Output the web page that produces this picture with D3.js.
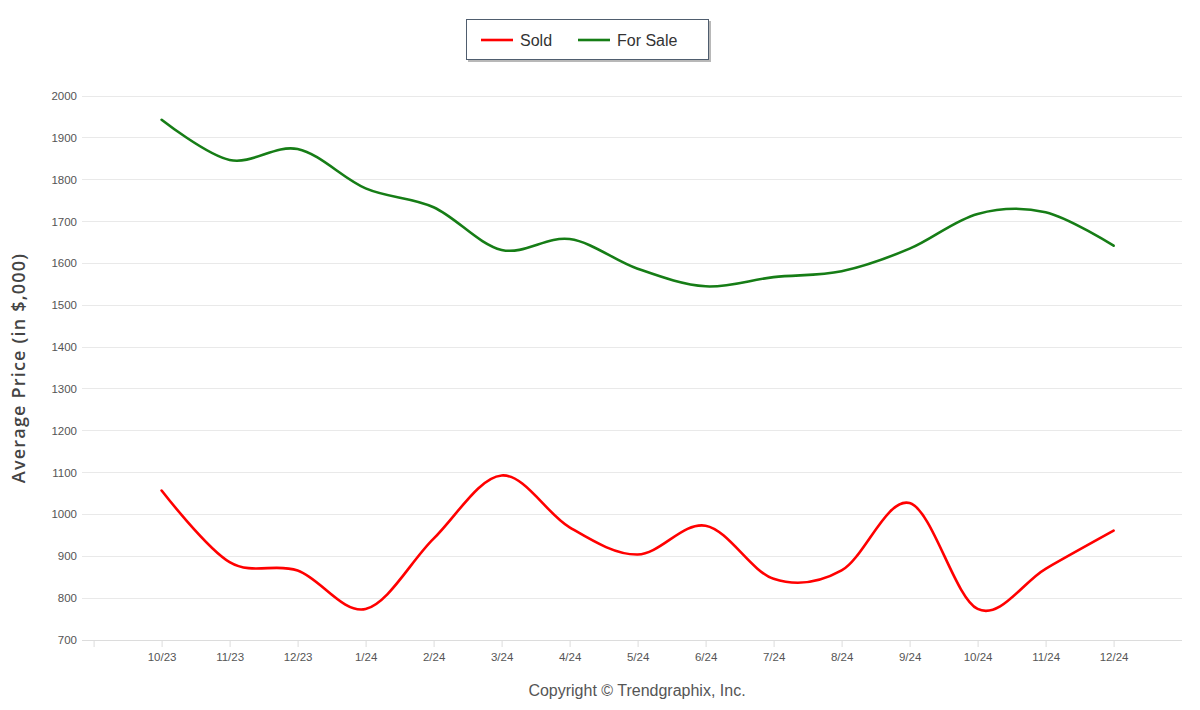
<!DOCTYPE html>
<html>
<head>
<meta charset="utf-8">
<script src="https://cdn.jsdelivr.net/npm/d3@7"></script>
<style>
  html, body { margin: 0; padding: 0; background: #fff; }
  svg { display: block; }
</style>
</head>
<body>
<svg id="chart" width="1200" height="710"></svg>
<script>
const categories = ["10/23","11/23","12/23","1/24","2/24","3/24","4/24","5/24","6/24","7/24","8/24","9/24","10/24","11/24","12/24"];
const soldValues = [1056, 885, 865, 773, 941, 1092, 968, 903, 972, 845, 865, 1026, 773, 869, 960];
const forSaleValues = [1942, 1846, 1872, 1778, 1733, 1631, 1657, 1586, 1544, 1566, 1580, 1634, 1717, 1721, 1641];
const yTicks = [700, 800, 900, 1000, 1100, 1200, 1300, 1400, 1500, 1600, 1700, 1800, 1900, 2000];
const seriesNames = ["Sold", "For Sale"];
const seriesColors = ["#ff0000", "#167d16"];

const svg = d3.select("#chart");
const font = "'Liberation Sans', Arial, sans-serif";

// scales: category index -1..15 spans the plot
const x = d3.scaleLinear().domain([-1, 15]).range([93.6, 1181.6]);
const y = d3.scaleLinear().domain([700, 2000]).range([639.5, 95.5]);

// gridlines
svg.append("g").selectAll("line").data(yTicks).join("line")
  .attr("x1", 82).attr("x2", 1182)
  .attr("y1", d => Math.round(y(d)) + 0.5).attr("y2", d => Math.round(y(d)) + 0.5)
  .attr("stroke", "#e9e9e9").attr("stroke-width", 1);

// y axis labels
const yAxis = d3.axisLeft(y).tickValues(yTicks).tickSize(0).tickPadding(0).tickFormat(d3.format("d"));
const gy = svg.append("g").attr("transform", "translate(77,0)").call(yAxis);
gy.select(".domain").remove();
gy.selectAll("text").attr("font-family", font).attr("font-size", 11.5).attr("fill", "#555").attr("dy", "0.35em");

// x axis
const xIdx = d3.range(-1, 15);
const xAxis = d3.axisBottom(x).tickValues(xIdx).tickSize(7).tickPadding(6)
  .tickFormat(i => i >= 0 ? categories[i] : "");
const gx = svg.append("g").attr("transform", "translate(0,640)").call(xAxis);
gx.select(".domain").attr("d", "M82,0.5H1182").attr("stroke", "#dcdcdc");
gx.selectAll(".tick line").attr("stroke", "#dcdcdc");
gx.selectAll("text").attr("font-family", font).attr("font-size", 11.5).attr("fill", "#555");

// lines
const line = d3.line().x((d, i) => x(i)).y(d => y(d)).curve(d3.curveCardinal.tension(0));
[soldValues, forSaleValues].forEach((vals, k) => {
  svg.append("path").datum(vals)
    .attr("d", line)
    .attr("fill", "none")
    .attr("stroke", seriesColors[k])
    .attr("stroke-width", 2.6)
    .attr("stroke-linejoin", "round")
    .attr("stroke-linecap", "round");
});

// y axis title
svg.append("text")
  .attr("transform", "translate(25,368) rotate(-90)")
  .attr("text-anchor", "middle")
  .attr("font-family", "'Open Sans', sans-serif")
  .attr("font-weight", 600)
  .attr("font-size", 18)
  .attr("letter-spacing", 1.2)
  .attr("fill", "#444")
  .text("Average Price (in $,000)");

// legend
const lg = svg.append("g");
lg.append("rect").attr("x", 468).attr("y", 21).attr("width", 243).attr("height", 41)
  .attr("fill", "#9a9a9a").attr("opacity", 0.7);
lg.append("rect").attr("x", 466.5).attr("y", 19.5).attr("width", 242).attr("height", 40)
  .attr("fill", "#fff").attr("stroke", "#4f5d6e").attr("stroke-width", 1);
const legX = [481, 578];
seriesNames.forEach((name, k) => {
  lg.append("line").attr("x1", legX[k]).attr("x2", legX[k] + 32)
    .attr("y1", 40).attr("y2", 40)
    .attr("stroke", seriesColors[k]).attr("stroke-width", 2.6);
  lg.append("text").attr("x", legX[k] + 39).attr("y", 46)
    .attr("font-family", font).attr("font-size", 16).attr("fill", "#333")
    .text(name);
});

// copyright
svg.append("text")
  .attr("x", 637).attr("y", 696)
  .attr("text-anchor", "middle")
  .attr("font-family", font).attr("font-size", 16).attr("fill", "#555")
  .text("Copyright \u00A9 Trendgraphix, Inc.");
</script>
</body>
</html>
